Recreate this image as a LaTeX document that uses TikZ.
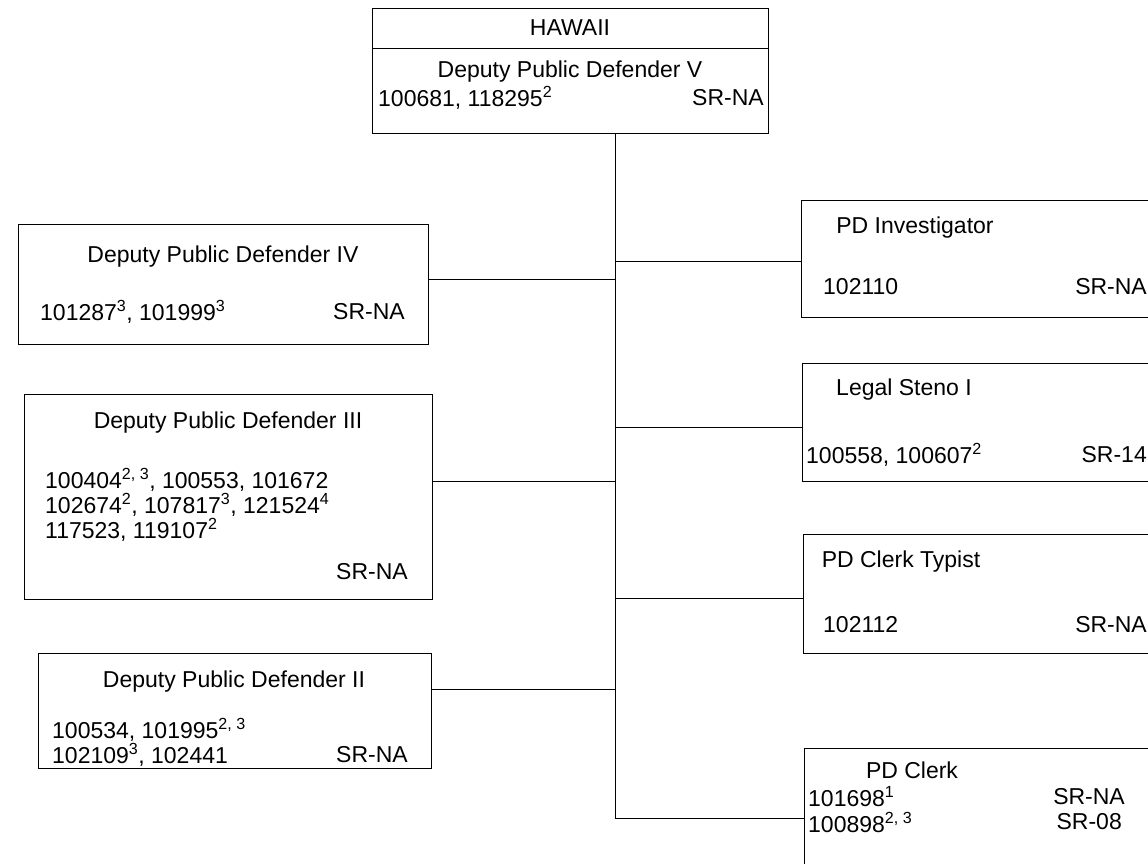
\documentclass[tikz,border=0pt]{standalone}
\usepackage{fontspec}
\setmainfont{Liberation Sans}
\newcommand\sups[1]{\textsuperscript{#1}}
\begin{document}
\begin{tikzpicture}[x=1pt,y=-1pt,
  box/.style={draw, line width=1pt, rectangle, anchor=north west, inner sep=0pt},
  conn/.style={draw, line width=1pt},
  txt/.style={inner sep=0pt, font=\fontsize{23}{27}\selectfont},
  lt/.style={txt, anchor=west},
  rt/.style={txt, anchor=east},
  ct/.style={txt, anchor=center}]
\clip (0,0) rectangle (1148,863);
\fill[white] (0,0) rectangle (1148,863);
% top box
\node[box, minimum width=396pt, minimum height=125pt] (top) at (372,8) {};
\coordinate (hdiv) at (372,48);
\draw[conn] (hdiv) -- (hdiv -| top.east);
\node[ct] (hawaii) at (570,28) {HAWAII};
\node[ct] (toptitle) at (570,72) {Deputy Public Defender V};
\node[lt] (topnum) at (378,98) {100681, 118295\sups{2}};
\node[rt] (topsr) at (764,98) {SR-NA};
% left boxes
\node[box, minimum width=410pt, minimum height=120pt] (dpd4) at (18,224) {};
\node[ct] (dpd4t) at (223,257) {Deputy Public Defender IV};
\node[lt] (dpd4n) at (40,312) {101287\sups{3}, 101999\sups{3}};
\node[rt] (dpd4s) at (405,312) {SR-NA};
\node[box, minimum width=408pt, minimum height=205pt] (dpd3) at (24,394) {};
\node[ct] (dpd3t) at (228,423) {Deputy Public Defender III};
\node[lt] (dpd3a) at (45,480) {100404\sups{2, 3}, 100553, 101672};
\node[lt] (dpd3b) at (45,505) {102674\sups{2}, 107817\sups{3}, 121524\sups{4}};
\node[lt] (dpd3c) at (45,530) {117523, 119107\sups{2}};
\node[rt] (dpd3s) at (408,572) {SR-NA};
\node[box, minimum width=393pt, minimum height=115pt] (dpd2) at (38,653) {};
\node[ct] (dpd2t) at (234,682) {Deputy Public Defender II};
\node[lt] (dpd2a) at (52,730) {100534, 101995\sups{2, 3}};
\node[lt] (dpd2b) at (52,755) {102109\sups{3}, 102441};
\node[rt] (dpd2s) at (408,755) {SR-NA};
% right boxes
\node[box, minimum width=400pt, minimum height=117pt] (inv) at (801,200) {};
\node[ct] (invt) at (915,228) {PD Investigator};
\node[lt] (invn) at (823,287) {102110};
\node[rt] (invs) at (1147,287) {SR-NA};
\node[box, minimum width=400pt, minimum height=118pt] (steno) at (802,363) {};
\node[ct] (stenot) at (904,390) {Legal Steno I};
\node[lt] (stenon) at (806,455) {100558, 100607\sups{2}};
\node[rt] (stenos) at (1147,455) {SR-14};
\node[box, minimum width=400pt, minimum height=119pt] (typ) at (803,534) {};
\node[ct] (typt) at (901,562) {PD Clerk Typist};
\node[lt] (typn) at (823,625) {102112};
\node[rt] (typs) at (1147,625) {SR-NA};
\node[box, minimum width=400pt, minimum height=160pt] (clerk) at (804,748) {};
\node[ct] (clerkt) at (912,770) {PD Clerk};
\node[lt] (clerka) at (808,797) {101698\sups{1}};
\node[rt] (clerkas) at (1125,797) {SR-NA};
\node[lt] (clerkb) at (808,822) {100898\sups{2, 3}};
\node[rt] (clerkbs) at (1122,822) {SR-08};
% trunk and connectors
\coordinate (tt) at (615,133);
\coordinate (tb) at (615,818);
\coordinate (c4) at (615,279);
\coordinate (c3) at (615,481);
\coordinate (c2) at (615,689);
\coordinate (ci) at (615,261);
\coordinate (cs) at (615,427);
\coordinate (ct) at (615,598);
\draw[conn] (tt) -- (tb) -- (clerk.west |- tb);
\draw[conn] (dpd4.east |- c4) -- (c4);
\draw[conn] (dpd3.east |- c3) -- (c3);
\draw[conn] (dpd2.east |- c2) -- (c2);
\draw[conn] (ci) -- (inv.west |- ci);
\draw[conn] (cs) -- (steno.west |- cs);
\draw[conn] (ct) -- (typ.west |- ct);
\end{tikzpicture}
\end{document}
